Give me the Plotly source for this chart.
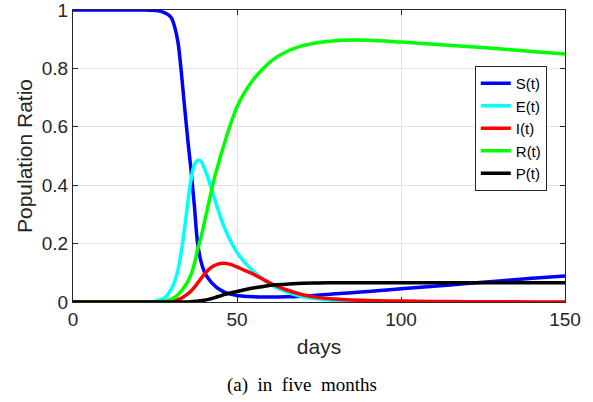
import plotly.graph_objects as go

days = [0, 10, 20, 24, 26, 28, 29, 30, 31, 32, 33, 34, 35, 36, 37, 38, 39, 40, 41, 42, 43,
        44, 45, 46, 48, 50, 52, 55, 58, 61, 65, 70, 75, 80, 85, 90, 100, 110, 120, 130, 140, 150]

S = [1, 1, 1, 0.9995, 0.997, 0.99, 0.984, 0.973, 0.942, 0.89, 0.79, 0.67, 0.555, 0.45, 0.33, 0.2, 0.14,
     0.105, 0.085, 0.07, 0.058, 0.048, 0.041, 0.035, 0.027, 0.022, 0.02, 0.018, 0.017, 0.017, 0.018,
     0.02, 0.024, 0.028, 0.032, 0.036, 0.045, 0.054, 0.063, 0.072, 0.081, 0.089]

E = [0, 0, 0, 0.001, 0.005, 0.015, 0.027, 0.045, 0.07, 0.11, 0.17, 0.25, 0.34, 0.42, 0.47, 0.485, 0.482,
     0.46, 0.43, 0.395, 0.36, 0.325, 0.29, 0.26, 0.21, 0.17, 0.14, 0.105, 0.078, 0.055, 0.035,
     0.018, 0.01, 0.005, 0.003, 0.002, 0.001, 0, 0, 0, 0, 0]

I = [0, 0, 0, 0, 0, 0, 0.001, 0.002, 0.004, 0.008, 0.013, 0.02, 0.028, 0.038, 0.05, 0.065, 0.08,
     0.095, 0.107, 0.117, 0.124, 0.129, 0.132, 0.133, 0.129, 0.12, 0.11, 0.095, 0.077, 0.06, 0.042,
     0.025, 0.015, 0.01, 0.007, 0.005, 0.003, 0.002, 0.001, 0.001, 0, 0]

R = [0, 0, 0, 0, 0.001, 0.003, 0.006, 0.01, 0.016, 0.025, 0.037, 0.052, 0.07, 0.095, 0.13, 0.18, 0.22,
     0.27, 0.32, 0.37, 0.42, 0.46, 0.5, 0.537, 0.608, 0.668, 0.712, 0.762, 0.8, 0.83, 0.857,
     0.878, 0.889, 0.895, 0.897, 0.896, 0.89, 0.883, 0.875, 0.867, 0.858, 0.849]

P = [0, 0, 0, 0, 0, 0, 0, 0, 0, 0, 0, 0, 0, 0.001, 0.002, 0.003, 0.0045,
     0.006, 0.008, 0.011, 0.014, 0.018, 0.021, 0.025, 0.031, 0.036, 0.041, 0.048, 0.053, 0.058, 0.061,
     0.064, 0.065, 0.066, 0.066, 0.066, 0.066, 0.066, 0.066, 0.066, 0.066, 0.066]

series = [("S(t)", S, "#0000FF"), ("E(t)", E, "#00FFFF"), ("I(t)", I, "#FF0000"),
          ("R(t)", R, "#00FF00"), ("P(t)", P, "#000000")]

x_ticks = [0, 50, 100, 150]
y_ticks = [0, 0.2, 0.4, 0.6, 0.8, 1]
y_ticktext = ["0", "0.2", "0.4", "0.6", "0.8", "1"]

fig = go.Figure()
for name, vals, col in series:
    fig.add_trace(go.Scatter(x=days, y=vals, name=name, mode="lines",
                             line=dict(color=col, width=3.5, shape="spline", smoothing=1.0),
                             cliponaxis=False))

axcol = "#262626"
font = "Liberation Sans, Arial, sans-serif"
fig.update_layout(
    width=593, height=402,
    margin=dict(l=73, r=28, t=10, b=100, autoexpand=False),
    paper_bgcolor="white", plot_bgcolor="white",
    showlegend=True,
    legend=dict(x=0.963, y=0.808, xanchor="right", yanchor="top",
                bgcolor="white", bordercolor=axcol, borderwidth=1,
                font=dict(family=font, size=15, color="#000000"),
                tracegroupgap=0, itemwidth=30),
    xaxis=dict(range=[0, 150], tickvals=x_ticks, ticks="inside", ticklen=5,
               tickcolor=axcol, showline=True, linecolor=axcol, linewidth=1, mirror="ticks",
               showgrid=True, gridcolor="#e3e3e3", gridwidth=1, zeroline=False,
               ticklabeloverflow="allow", automargin=False,
               tickfont=dict(family=font, size=19, color=axcol),
               title=dict(text="days", font=dict(family=font, size=21, color=axcol), standoff=10)),
    yaxis=dict(range=[0, 1], tickvals=y_ticks, ticktext=y_ticktext, ticks="inside", ticklen=5,
               tickcolor=axcol, showline=True, linecolor=axcol, linewidth=1, mirror="ticks",
               showgrid=True, gridcolor="#e3e3e3", gridwidth=1, zeroline=False,
               ticklabeloverflow="allow", automargin=False,
               tickfont=dict(family=font, size=19, color=axcol),
               title=dict(text="Population Ratio", font=dict(family=font, size=21, color=axcol), standoff=3)),
    annotations=[dict(text="(a)\u2002in\u2002five\u2002months", x=0.4654, y=-0.283, xref="paper", yref="paper",
                      xanchor="center", yanchor="middle", showarrow=False,
                      font=dict(family="Liberation Serif, Times New Roman, serif", size=19, color="#000000"))],
)

fig.write_html("out.html")
